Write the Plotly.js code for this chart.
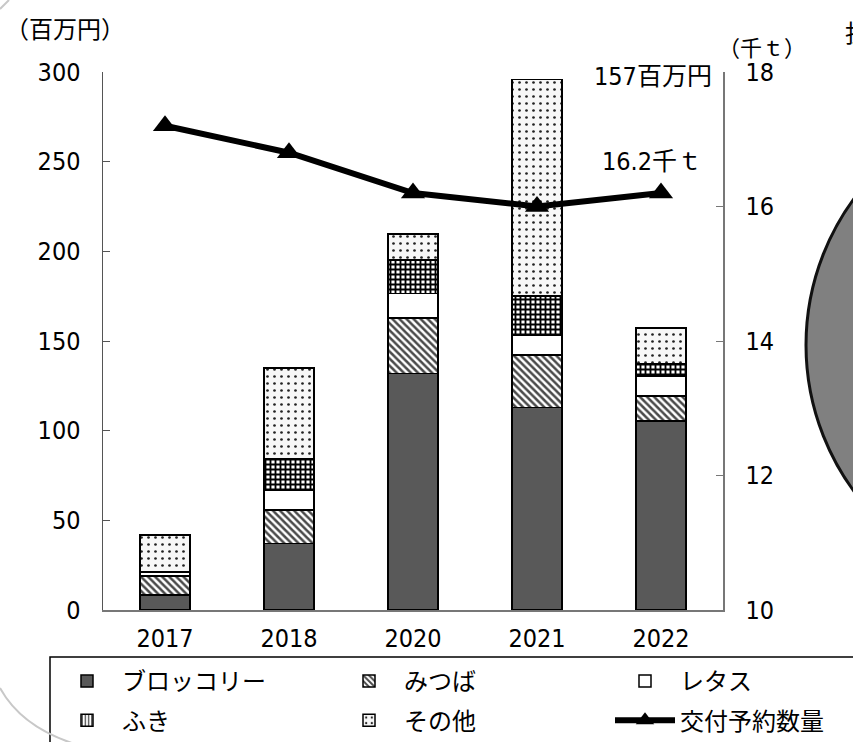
<!DOCTYPE html>
<html>
<head>
<meta charset="utf-8">
<script src="https://cdn.plot.ly/plotly-3.0.1.min.js"></script>
<style>html,body{margin:0;padding:0;background:#fff;}#chart{width:853px;height:742px;}</style>
</head>
<body>
<div id="chart"></div>
<script>
// ---- data ----
const years = ['2017', '2018', '2020', '2021', '2022'];
const broccoli = [8.4, 37.2, 132.0, 113.0, 105.4];
const mitsuba = [10.6, 18.6, 30.7, 29.2, 13.9];
const lettuce = [2.0, 11.2, 13.9, 11.2, 11.3];
const fuki = [0.5, 17.1, 18.6, 21.8, 6.5];
const others = [20.3, 50.8, 14.5, 120.5, 20.2];
const volume = [17.2, 16.8, 16.2, 16.0, 16.2];
const seriesNames = ['ブロッコリー', 'みつば', 'レタス', 'ふき', 'その他', '交付予約数量'];
const noValues = years.map(() => null);

const FONT = 'DejaVu Sans Condensed, Liberation Sans Narrow, Noto Sans CJK JP, sans-serif';
const JFONT = 'Noto Sans CJK JP, sans-serif';
const edge = {color: '#000', width: 1.5};

const lastTotal = broccoli[4] + mitsuba[4] + lettuce[4] + fuki[4] + others[4];

const traces = [
  {type: 'bar', name: seriesNames[0], legendgroup: 'g1', x: years, y: broccoli, legend: 'legend',
   marker: {color: '#595959', line: edge}},
  {type: 'bar', name: seriesNames[3], legendgroup: 'g4', x: years, y: noValues, legend: 'legend',
   marker: {color: '#fff', line: edge, pattern: {shape: '|', fgcolor: '#000', bgcolor: '#fff', size: 4, solidity: 0.3}}},
  {type: 'bar', name: seriesNames[1], legendgroup: 'g2', x: years, y: mitsuba, legend: 'legend2',
   marker: {color: '#fff', line: edge, pattern: {shape: '\\', fgcolor: '#4a4a4a', bgcolor: '#fff', size: 5, solidity: 0.5}}},
  {type: 'bar', name: seriesNames[2], legendgroup: 'g3', x: years, y: lettuce, legend: 'legend3',
   marker: {color: '#fff', line: edge}},
  {type: 'bar', name: seriesNames[3], legendgroup: 'g4b', x: years, y: fuki, showlegend: false,
   marker: {color: '#fff', line: edge, pattern: {shape: '+', fgcolor: '#000', bgcolor: '#fff', size: 5, solidity: 0.6}}},
  {type: 'bar', name: seriesNames[4], legendgroup: 'g5', x: years, y: others, legend: 'legend2',
   marker: {color: '#f7f7f7', line: edge, pattern: {shape: '.', fgcolor: '#222', bgcolor: '#f7f7f7', size: 7, solidity: 0.12}}},
  {type: 'scatter', mode: 'lines+markers', name: seriesNames[5], legendgroup: 'g6', x: years, y: volume, yaxis: 'y2', legend: 'legend3',
   line: {color: '#000', width: 6}, marker: {symbol: 'triangle-up', size: 21, color: '#000'}}
];

const P = (px) => (px - 103) / 620;
const Q = (py) => (610 - py) / 538;

const legendBase = {orientation: 'v', bgcolor: 'rgba(0,0,0,0)', borderwidth: 0, traceorder: 'grouped',
  itemwidth: 60, font: {family: JFONT, size: 24, color: '#000'}, yanchor: 'top', xanchor: 'left', tracegroupgap: 5};

const layout = {
  width: 853, height: 742,
  margin: {l: 103, r: 130, t: 72, b: 132, autoexpand: false},
  paper_bgcolor: '#fff', plot_bgcolor: '#fff',
  barmode: 'stack', bargap: 0.6,
  font: {family: FONT, size: 25, color: '#000'},
  xaxis: {type: 'category', categoryorder: 'array', categoryarray: years,
    showline: true, linecolor: '#777', linewidth: 1.5, ticks: '', showgrid: false, zeroline: false,
    ticklabelstandoff: 5, tickfont: {family: FONT, size: 25}},
  yaxis: {range: [0, 300], dtick: 50, showline: true, linecolor: '#555', linewidth: 1.5,
    ticks: 'inside', ticklen: 7, tickcolor: '#555', showgrid: false, zeroline: false,
    ticklabelstandoff: 16, tickfont: {family: FONT, size: 25}},
  yaxis2: {range: [10, 18], dtick: 2, overlaying: 'y', side: 'right', showline: true, linecolor: '#777', linewidth: 1.5,
    ticks: 'inside', ticklen: 7, tickcolor: '#777', showgrid: false, zeroline: false,
    ticklabelstandoff: 16, tickfont: {family: FONT, size: 25}},
  showlegend: true,
  legend: Object.assign({}, legendBase, {x: P(52), y: Q(659)}),
  legend2: Object.assign({}, legendBase, {x: P(334), y: Q(659)}),
  legend3: Object.assign({}, legendBase, {x: P(610), y: Q(659)}),
  shapes: [
    {type: 'rect', xref: 'paper', yref: 'paper', x0: P(50), x1: P(900), y0: Q(800), y1: Q(657),
     line: {color: '#000', width: 1.5}, fillcolor: 'rgba(0,0,0,0)', layer: 'below'},
    {type: 'circle', xref: 'paper', yref: 'paper', x0: P(806), x1: P(1300), y0: Q(592), y1: Q(98),
     line: {color: '#111', width: 3}, fillcolor: '#808080', layer: 'below'},
    {type: 'path', xref: 'paper', yref: 'paper',
     path: 'M' + P(0) + ',' + Q(688) + ' Q' + P(22) + ',' + Q(728) + ' ' + P(78) + ',' + Q(745),
     line: {color: '#c8c8c8', width: 2}, layer: 'below'},
    {type: 'path', xref: 'paper', yref: 'paper',
     path: 'M' + P(0) + ',' + Q(9) + ' L' + P(9) + ',' + Q(0),
     line: {color: '#c8c8c8', width: 2}, layer: 'below'}
  ],
  annotations: [
    {xref: 'paper', yref: 'paper', x: P(3), y: Q(27), xanchor: 'left', yanchor: 'middle', showarrow: false,
     text: '（百万円）', font: {family: JFONT, size: 24}},
    {xref: 'paper', yref: 'paper', x: P(716), y: Q(46), xanchor: 'left', yanchor: 'middle', showarrow: false,
     text: '（千ｔ）', font: {family: JFONT, size: 22}},
    {xref: 'paper', yref: 'paper', x: P(714), y: Q(76), xanchor: 'right', yanchor: 'middle', showarrow: false,
     text: Math.round(lastTotal) + '百万円', font: {family: FONT, size: 25}},
    {xref: 'paper', yref: 'paper', x: P(704), y: Q(161), xanchor: 'right', yanchor: 'middle', showarrow: false,
     text: volume[4].toFixed(1) + '千ｔ', font: {family: FONT, size: 25}},
    {xref: 'paper', yref: 'paper', x: P(843), y: Q(32), xanchor: 'left', yanchor: 'middle', showarrow: false,
     text: '払出', font: {family: JFONT, size: 24}}
  ]
};

Plotly.newPlot('chart', traces, layout, {displayModeBar: false, staticPlot: true});
</script>
</body>
</html>
